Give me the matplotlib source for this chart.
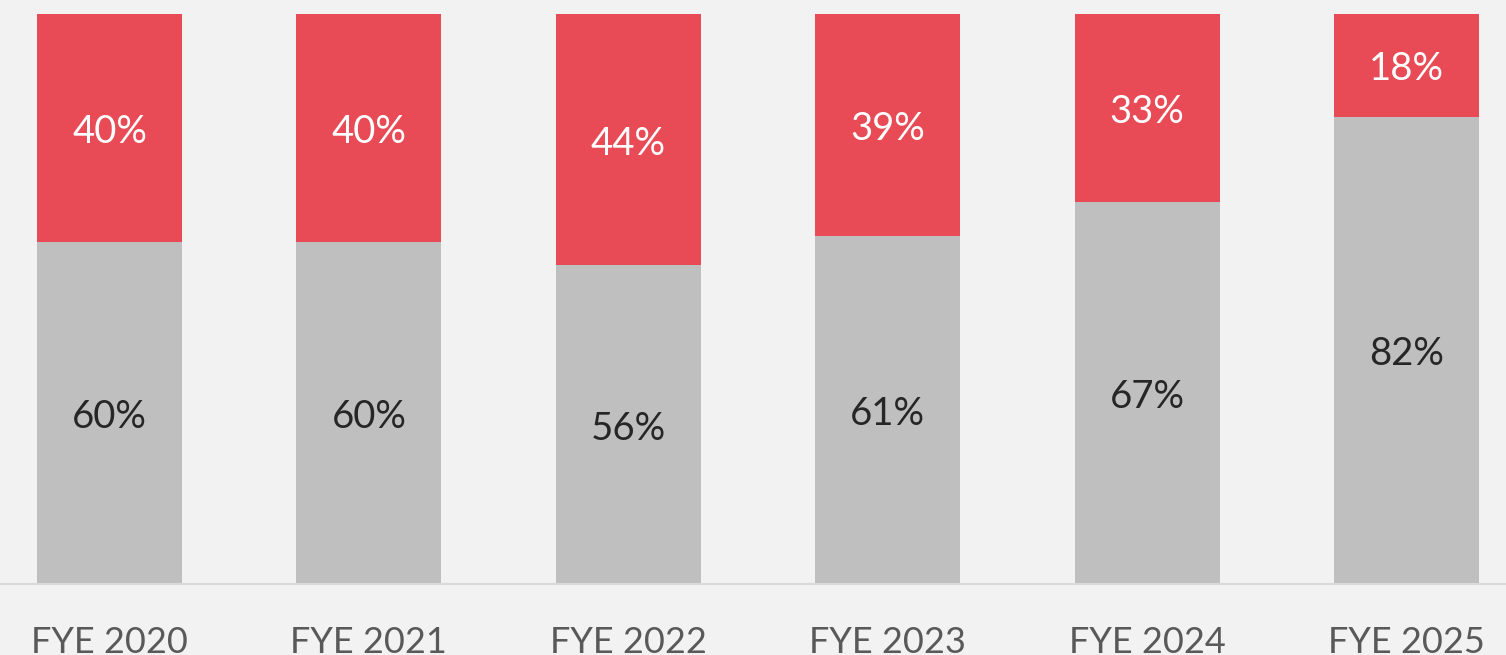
import numpy as np
import matplotlib.pyplot as plt

# data
years = ['FYE 2020', 'FYE 2021', 'FYE 2022', 'FYE 2023', 'FYE 2024', 'FYE 2025']
gray_share = [60, 60, 56, 61, 67, 82]
red_share = [40, 40, 44, 39, 33, 18]

bg = '#f2f2f2'
gray_col = '#bfbfbf'
red_col = '#e84b55'

fig = plt.figure(figsize=(15.06, 6.55), dpi=100, facecolor=bg)
ax = fig.add_axes([0, 0.1084, 1, 0.8702], facecolor=bg)

x = np.arange(len(years))
w = 0.559
ax.bar(x, gray_share, width=w, color=gray_col)
ax.bar(x, red_share, width=w, bottom=gray_share, color=red_col)

font = dict(family=['Lato', 'DejaVu Sans'], fontsize=27.5)
for i in range(len(years)):
    ax.annotate(f'{gray_share[i]}%', (x[i], gray_share[i] / 2), xytext=(0, -3),
                textcoords='offset points', ha='center', va='center',
                color='#262626', **font)
    ax.annotate(f'{red_share[i]}%', (x[i], gray_share[i] + red_share[i] / 2),
                xytext=(0, -3), textcoords='offset points', ha='center',
                va='center', color='white', **font)

ax.set_xlim(-0.422, 5.384)
ax.set_ylim(0, 100)
ax.set_xticks(x)
ax.set_xticklabels(years, color='#595959', fontsize=26, family=['Lato', 'DejaVu Sans'])
ax.tick_params(axis='x', length=0, pad=30)
ax.set_yticks([])
for s in ['top', 'left', 'right']:
    ax.spines[s].set_visible(False)
ax.spines['bottom'].set_color('#d9d9d9')
ax.spines['bottom'].set_linewidth(1.5)

fig.savefig('out.png', dpi=100, facecolor=bg)
